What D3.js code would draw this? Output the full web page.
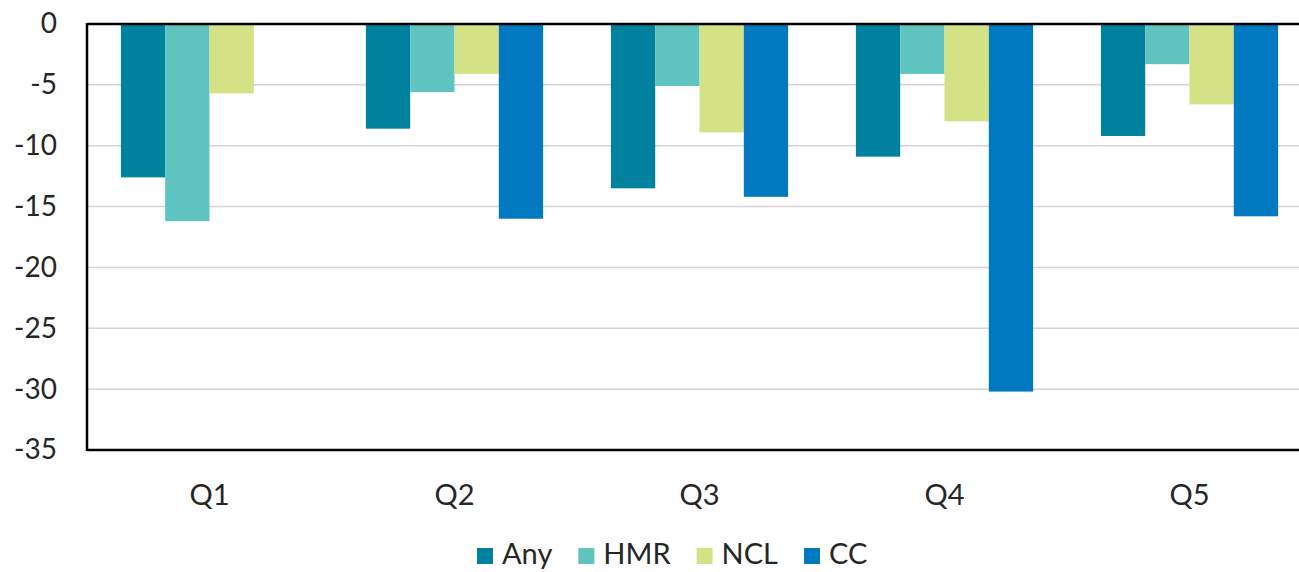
<!DOCTYPE html>
<html>
<head>
<meta charset="utf-8">
<script src="https://cdn.jsdelivr.net/npm/d3@7"></script>
<style>
  body { margin: 0; background: #fff; overflow: hidden; }
  text { font-family: Lato, "Open Sans", sans-serif; fill: #262626; }
</style>
</head>
<body>
<div id="chart"></div>
<script>
// data
const quarters = ["Q1", "Q2", "Q3", "Q4", "Q5"];
const seriesNames = ["Any", "HMR", "NCL", "CC"];
const anyVals = [-12.6, -8.6, -13.5, -10.9, -9.2];
const hmrVals = [-16.2, -5.6, -5.1, -4.1, -3.3];
const nclVals = [-5.7, -4.1, -8.9, -8.0, -6.6];
const ccVals = [null, -16.0, -14.2, -30.2, -15.8];
const yTicks = [0, -5, -10, -15, -20, -25, -30, -35];
const colors = ["#00819E", "#5FC4C0", "#D4E285", "#0079C1"];

const w = 1299;
const h = 572;
const plotLeft = 87, plotTop = 24, plotBottom = 450, plotRight = 1312;

const svg = d3.select("#chart").append("svg")
  .attr("width", w)
  .attr("height", h);

const allVals = [anyVals, hmrVals, nclVals, ccVals];
const rows = [];
quarters.forEach((q, i) => {
  seriesNames.forEach((s, j) => {
    if (allVals[j][i] !== null) rows.push({ q: q, s: s, v: allVals[j][i] });
  });
});

const xScale = d3.scaleBand().domain(quarters).range([plotLeft, plotRight]).padding(0);
const xInner = d3.scaleBand().domain(seriesNames).range([0, xScale.bandwidth()])
  .paddingInner(0).paddingOuter(0.765);
const yScale = d3.scaleLinear().domain([0, -35]).range([plotTop, plotBottom]);
const color = d3.scaleOrdinal().domain(seriesNames).range(colors);

// gridlines
svg.append("g")
  .selectAll("line")
  .data(yTicks.filter(d => d !== 0 && d !== -35))
  .enter()
  .append("line")
  .attr("x1", plotLeft).attr("x2", w)
  .attr("y1", d => yScale(d)).attr("y2", d => yScale(d))
  .attr("stroke", "#d4d4d4")
  .attr("stroke-width", 1.5);

// bars
svg.append("g")
  .selectAll("rect")
  .data(rows)
  .enter()
  .append("rect")
  .attr("x", d => xScale(d.q) + xInner(d.s))
  .attr("width", xInner.bandwidth())
  .attr("y", yScale(0))
  .attr("height", d => yScale(d.v) - yScale(0))
  .attr("fill", d => color(d.s));

// y axis labels (plain hyphen like the original)
const yAxis = d3.axisLeft(yScale).tickValues(yTicks).tickSize(0).tickPadding(30)
  .tickFormat(d => String(d));
const yg = svg.append("g")
  .attr("transform", "translate(" + plotLeft + ",0)")
  .call(yAxis);
yg.select(".domain").remove();
yg.selectAll("text").style("font-size", "28px").attr("fill", "#262626")
  .style("font-family", "Lato, sans-serif");

// x axis labels
const xAxis = d3.axisBottom(xScale).tickSize(0).tickPadding(34);
const xg = svg.append("g")
  .attr("transform", "translate(0," + plotBottom + ")")
  .call(xAxis);
xg.select(".domain").remove();
xg.selectAll("text").style("font-size", "29px").attr("fill", "#262626")
  .style("font-family", "Lato, sans-serif");

// frame: zero line, bottom line, left line
svg.append("line").attr("x1", plotLeft).attr("x2", w).attr("y1", plotTop).attr("y2", plotTop)
  .attr("stroke", "#000").attr("stroke-width", 2.5);
svg.append("line").attr("x1", plotLeft).attr("x2", w).attr("y1", plotBottom).attr("y2", plotBottom)
  .attr("stroke", "#000").attr("stroke-width", 2.5);
svg.append("line").attr("x1", plotLeft).attr("x2", plotLeft).attr("y1", plotTop - 1).attr("y2", plotBottom + 1)
  .attr("stroke", "#000").attr("stroke-width", 2.5);

// legend
const legend = svg.append("g").attr("id", "legend");
let lx = 477;
seriesNames.forEach((s, j) => {
  legend.append("rect")
    .attr("x", lx).attr("y", 548)
    .attr("width", 16).attr("height", 16)
    .attr("fill", colors[j]);
  const t = legend.append("text")
    .attr("x", lx + 25).attr("y", 564)
    .style("font-size", "29px")
    .text(s);
  lx += 25 + t.node().getComputedTextLength() + 26;
});
</script>
</body>
</html>
